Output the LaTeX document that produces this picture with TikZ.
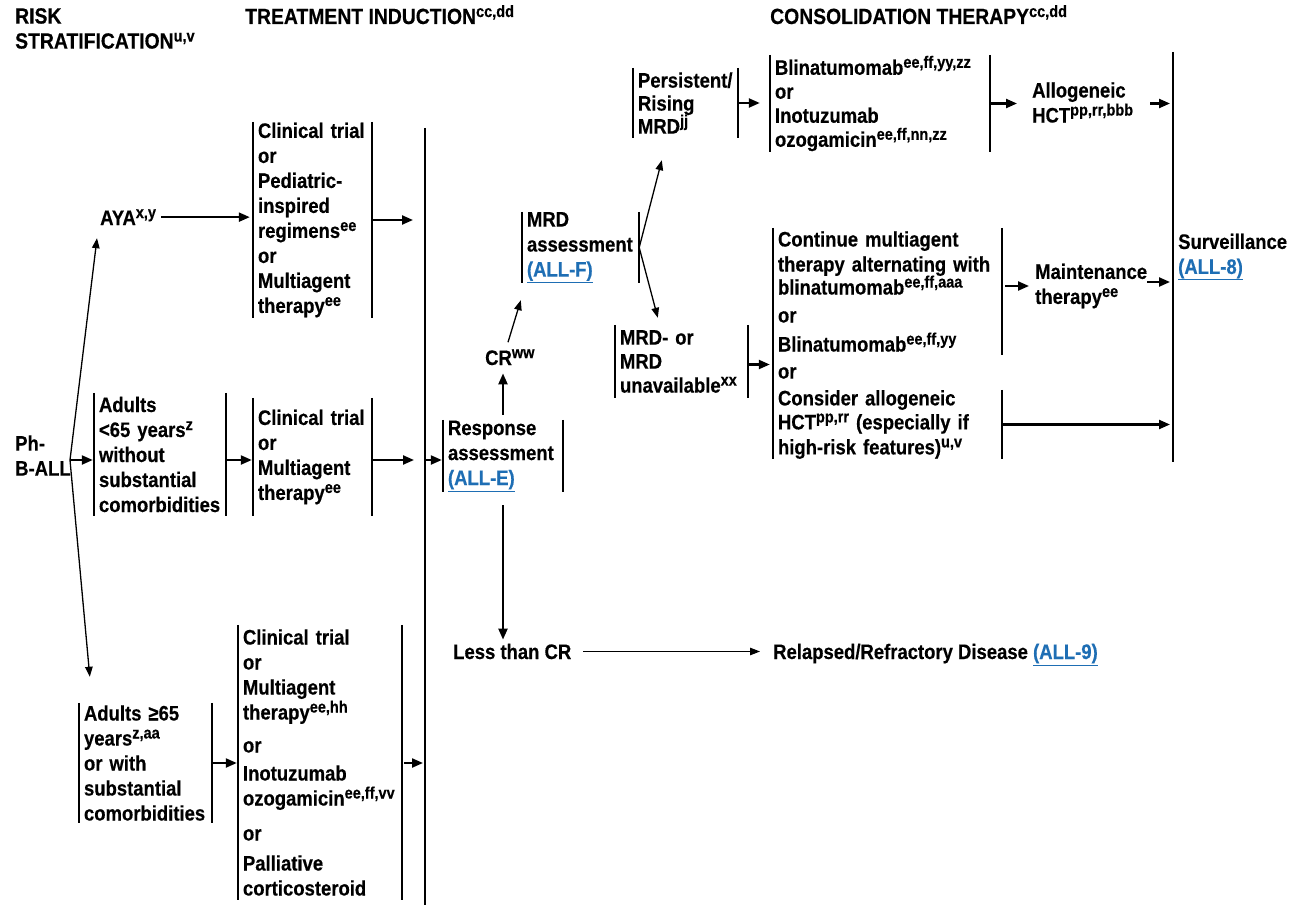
\documentclass[tikz,border=0pt]{standalone}
\usepackage{fontspec}
\setmainfont{Liberation Sans}[FakeStretch=0.88, BoldFeatures={FakeBold=0.4}]
\usetikzlibrary{arrows.meta,calc}
\definecolor{linkblue}{RGB}{30,110,180}
\newcommand\sps[1]{\raisebox{7pt}{\fontsize{16.5}{16.5}\selectfont #1}}
\newcommand\lnk[1]{\textcolor{linkblue}{\underline{#1}}}
\begin{document}
\begin{tikzpicture}[x=1pt,y=-1pt,
  every node/.style={font=\fontsize{21}{25}\selectfont\bfseries, inner sep=0pt, align=left},
  hdr/.style={font=\fontsize{22}{25}\selectfont\bfseries},
  brkline/.style={line width=1.9pt, -},
  brk/.style={inner xsep=5pt, append after command={(\tikzlastnode.north west) edge[brkline] (\tikzlastnode.south west) (\tikzlastnode.north east) edge[brkline] (\tikzlastnode.south east)}},
  lbrk/.style={inner xsep=5pt, append after command={(\tikzlastnode.north west) edge[brkline] (\tikzlastnode.south west)}},
  arr/.style={line width=2.2pt, -{Triangle[length=11pt,width=9pt]}},
  tarr/.style={line width=1.3pt, -{Triangle[length=10pt,width=7.5pt]}},
]
\fill[white] (0,0) rectangle (1306,923);
\useasboundingbox (0,0) rectangle (1306,923);

% headers
\node[hdr, anchor=north west] (h1) at (15,8) {RISK\\STRATIFICATION\sps{u,v}};
\node[hdr, anchor=base west] (h2) at (245,24) {TREATMENT INDUCTION\sps{cc,dd}};
\node[hdr, anchor=base west] (h3) at (770,24) {CONSOLIDATION THERAPY\sps{cc,dd}};

% risk stratification
\node[anchor=west] (ph) at (15,455.5) {Ph-\\B-ALL};
\coordinate (phv) at (70,460);
\node[anchor=base west] (aya) at (100,225) {AYA\sps{x,y}};
\node[brk, text width=122pt, minimum height=123pt] (s2) at (160,454.5) {Adults\\<65 years\sps{z}\\without\\substantial\\comorbidities};
\node[brk, text width=123pt, minimum height=120pt] (s3) at (145.5,763) {Adults ≥65\\years\sps{z,aa}\\or with\\substantial\\comorbidities};

% induction
\node[brk, text width=109pt, minimum height=196pt] (i1) at (312.5,220) {Clinical trial\\or\\Pediatric-\\inspired\\regimens\sps{ee}\\or\\Multiagent\\therapy\sps{ee}};
\node[brk, text width=109pt, minimum height=118pt] (i2) at (312.5,457) {Clinical trial\\or\\Multiagent\\therapy\sps{ee}};
\node[brk, text width=154pt, minimum height=275pt] (i3) at (320,762.5) {Clinical trial\\or\\Multiagent\\therapy\sps{ee,hh}\\[8pt]or\\[3pt]Inotuzumab\\ozogamicin\sps{ee,ff,vv}\\[10pt]or\\[5pt]Palliative\\corticosteroid};
\node[lbrk, inner xsep=0pt, minimum width=0pt, minimum height=777pt] (ibar) at (425,516.5) {};

% response
\node[brk, text width=110pt, minimum height=72pt] (resp) at (503,456) {Response\\assessment\\\lnk{(ALL-E)}};
\node[anchor=base west] (cr) at (485,365) {CR\sps{ww}};
\node[anchor=base west] (ltcr) at (453,659) {Less than CR};
\node[anchor=base west] (rr) at (773,659) {Relapsed/Refractory Disease \lnk{(ALL-9)}};
\node[brk, text width=107pt, minimum height=71pt] (mrd) at (580.5,247.5) {MRD\\assessment\\\lnk{(ALL-F)}};
\node[brk, text width=95pt, minimum height=70pt] (pers) at (685.5,103) {Persistent/\\[-2pt]Rising\\[-2pt]MRD\sps{jj}};
\node[brk, text width=123pt, minimum height=73pt] (mrdn) at (681.5,361.5) {MRD- or\\[-1pt]MRD\\[-1pt]unavailable\sps{xx}};

% consolidation
\node[brk, text width=210pt, minimum height=97pt] (c1) at (880,103.5) {Blinatumomab\sps{ee,ff,yy,zz}\\[-1pt]or\\[-1pt]Inotuzumab\\[-1pt]ozogamicin\sps{ee,ff,nn,zz}};
\node[anchor=west] (allo) at (1032,102.5) {Allogeneic\\HCT\sps{pp,rr,bbb}};
\node[brk, text width=219pt, minimum height=127pt] (c2a) at (887.5,291.5) {Continue multiagent\\therapy alternating with\\[-2pt]blinatumomab\sps{ee,ff,aaa}\\[3pt]or\\[4pt]Blinatumomab\sps{ee,ff,yy}};
\node[lbrk, text width=219pt, minimum height=36pt] (c2or) at (887.5,373) {or};
\node[brk, text width=219pt, minimum height=67pt] (c2b) at (887.5,424.5) {Consider allogeneic\\[-1pt]HCT\sps{pp,rr} (especially if\\high-risk features)\sps{u,v}};
\node[anchor=west] (maint) at (1035,286) {Maintenance\\therapy\sps{ee}};
\node[lbrk, anchor=west, minimum height=410pt] (surv) at (1173,257) {Surveillance\\\lnk{(ALL-8)}};

% connectors
\draw[tarr] (phv) -- ($(aya.south west)+(-3,13)$);
\draw[tarr] (phv) -- ($(s3.north west)+(11,-26)$);
\draw[arr, shorten >=1pt] (phv) -- (phv -| s2.west);
\draw[arr, shorten <=5pt, shorten >=3pt] (aya.east) -- (aya.east -| i1.west);
\draw[arr, shorten >=12pt] (i1.east) -- (i1.east -| ibar);
\draw[arr, shorten >=1pt] (s2.east |- phv) -- (i2.west |- phv);
\draw[arr, shorten >=11pt] (i2.east |- phv) -- (ibar |- phv);
\draw[arr, shorten >=1pt] (ibar |- phv) -- (resp.west |- phv);
\draw[arr, shorten >=1pt] (s3.east) -- (s3.east -| i3.west);
\draw[arr, shorten <=2pt, shorten >=2pt] (i3.east |- s3.east) -- (s3.east -| ibar);
\draw[arr, shorten <=5pt, shorten >=8pt] (resp.north) -- (resp.north |- cr.south);
\draw[arr, shorten <=13pt, shorten >=4pt] (resp.south) -- (resp.south |- ltcr.north);
\draw[tarr] ($(cr.west)+(23,-15)$) -- ($(mrd.south west)+(-1,17)$);
\draw[tarr] (mrd.east) -- ($(pers.south west)+(29,22)$);
\draw[tarr] (mrd.east) -- ($(mrdn.north west)+(43,-7)$);
\draw[arr, shorten >=10pt] (pers.east) -- (pers.east -| c1.west);
\draw[arr, shorten >=15pt] (c1.east) -- (c1.east -| allo.west);
\draw[arr, shorten >=3pt] ($(surv.west |- c1.east)+(-23,0)$) -- (surv.west |- c1.east);
\draw[arr, shorten >=3pt] ([yshift=-3pt]mrdn.east) -- ([yshift=-3pt]mrdn.east -| c2or.west);
\draw[arr, shorten <=3pt, shorten >=6pt] (c2a.east |- maint.west) -- (maint.west);
\draw[arr, shorten >=3pt] ([yshift=4pt]maint.east) -- ([yshift=4pt]maint.east -| surv.west);
\draw[arr, shorten >=3pt] (c2b.east) -- (c2b.east -| surv.west);
\draw[tarr, shorten <=12pt, shorten >=13pt] (ltcr.east) -- (ltcr.east -| rr.west);
\end{tikzpicture}
\end{document}
